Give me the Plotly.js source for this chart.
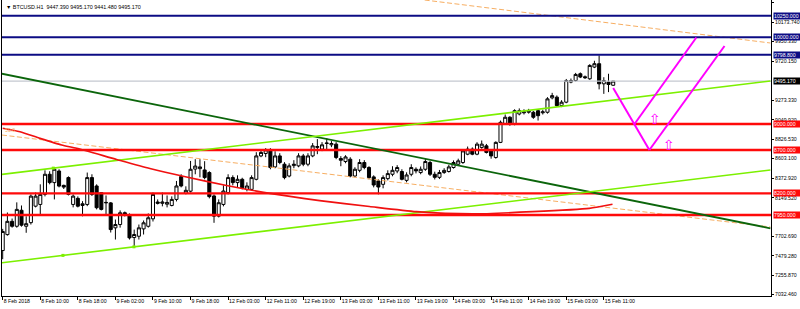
<!DOCTYPE html>
<html><head><meta charset="utf-8">
<script src="https://cdn.plot.ly/plotly-3.0.1.min.js"></script>
<style>html,body{margin:0;padding:0;background:#fff;}#chart{width:800px;height:309px;}</style>
</head><body><div id="chart"></div>
<script>
const symbol = "BTCUSD.H1";
const lastBar = [9447.39, 9495.17, 9441.48, 9495.17];

const open = [7540,7724,7877,7820,8005,7820,7862,8052,8072,8188,
8420,8324,8458,8292,8382,8072,8142,8060,8072,8382,
8285,8208,8090,8090,7802,7840,7976,7956,7690,7705,
7790,7820,7906,8100,8085,8075,8060,8130,8393,8200,
8225,8480,8485,8470,8440,8170,7937,8072,8208,8382,
8324,8362,8246,8246,8362,8632,8660,8698,8505,8632,
8536,8400,8520,8517,8632,8536,8632,8730,8710,8775,
8760,8768,8602,8567,8594,8400,8466,8556,8498,8390,
8343,8304,8370,8420,8458,8452,8350,8420,8478,8440,
8478,8556,8420,8385,8440,8452,8498,8536,8556,8652,
8710,8652,8730,8748,8690,8614,8788,9000,9078,9000,
9116,9130,9136,9136,9154,9130,9136,9302,9310,9212,
9252,9484,9502,9580,9545,9522,9657,9696,9464,9484,
9447.39];
const high = [7790,7979,7909,8096,8060,7935,8188,8210,8304,8466,
8455,8501,8478,8300,8396,8188,8165,8110,8440,8420,
8304,8212,8176,8100,7898,8003,7990,7968,7782,7840,
7887,7968,8210,8130,8210,8176,8165,8343,8420,8281,
8574,8594,8594,8571,8455,8188,8130,8293,8420,8408,
8408,8380,8327,8408,8675,8710,8722,8721,8686,8663,
8560,8547,8583,8663,8655,8663,8780,8826,8791,8838,
8803,8791,8629,8640,8617,8501,8594,8583,8513,8408,
8362,8408,8466,8513,8525,8478,8443,8536,8500,8510,
8600,8575,8450,8470,8490,8530,8580,8600,8710,8740,
8730,8790,8810,8770,8700,8800,9040,9110,9090,9170,
9180,9170,9175,9150,9170,9165,9310,9360,9330,9275,
9520,9525,9590,9595,9560,9690,9730,9792,9540,9580,
9495.17];
const low = [7440,7712,7804,7804,7816,7745,7840,8038,7956,8165,
8304,8130,8269,8250,8176,8038,8038,7935,8052,8170,
8015,8003,7956,7748,7667,7804,7933,7667,7589,7667,
7725,7805,7875,8072,8050,8038,8050,8107,8269,8188,
8210,8420,8385,8362,8142,7860,7922,8050,8188,8292,
8269,8246,8223,8235,8350,8617,8617,8478,8490,8536,
8362,8385,8490,8501,8513,8513,8617,8652,8687,8710,
8733,8594,8513,8547,8385,8385,8443,8478,8362,8269,
8188,8258,8350,8397,8432,8350,8327,8397,8430,8420,
8460,8400,8360,8365,8425,8440,8485,8520,8540,8640,
8640,8640,8715,8660,8600,8600,8780,8990,8980,8985,
9100,9110,9120,9060,9040,9110,9120,9285,9200,9195,
9240,9470,9490,9530,9520,9510,9645,9400,9348,9368,
9441.48];
const close = [7760,7877,7820,8015,7833,7850,8168,8168,8188,8420,
8324,8478,8284,8272,8188,8168,8052,8080,8382,8188,
8034,8015,8095,7782,7840,7976,7956,7686,7725,7802,
7860,7918,8188,8085,8100,8095,8130,8285,8285,8235,
8478,8515,8505,8382,8162,7937,8092,8227,8382,8324,
8362,8265,8285,8382,8632,8672,8702,8498,8632,8556,
8382,8517,8536,8632,8536,8632,8748,8740,8760,8780,
8775,8614,8582,8620,8400,8478,8556,8498,8382,8296,
8273,8382,8428,8466,8498,8362,8412,8498,8459,8478,
8567,8420,8385,8440,8465,8505,8556,8575,8690,8710,
8652,8768,8768,8672,8632,8788,9020,9078,9000,9154,
9154,9140,9154,9078,9096,9140,9290,9328,9212,9252,
9502,9502,9572,9542,9535,9676,9696,9464,9502,9456,
9495.17];

const xTickIdx = [0,8,16,24,32,40,48,56,64,72,80,88,96,104,112,120,128];
const xTickText = ["8 Feb 2018","8 Feb 10:00","8 Feb 18:00","9 Feb 02:00","9 Feb 10:00","9 Feb 18:00",
"12 Feb 03:00","12 Feb 11:00","12 Feb 19:00","13 Feb 03:00","13 Feb 11:00","13 Feb 19:00",
"14 Feb 03:00","14 Feb 11:00","14 Feb 19:00","15 Feb 03:00","15 Feb 11:00"];
const yTickVals = [10397.15,10173.74,9950.33,9720.15,9273.33,9049.92,8826.53,8603.10,8372.92,8149.52,7702.69,7479.28,7255.87,7032.46];

const blueLevels = [10250, 10000, 9798.8];
const redLevels = [9000, 8700, 8200, 7950];
const bidPrice = 9495.17;

const darkGreenIdx = [-0.57, 163.47], darkGreenVal = [9585, 7797];
const limeUpperIdx = [-0.15, 163.47], limeUpperVal = [8419, 9496];
const limeLowerIdx = [-0.15, 163.47], limeLowerVal = [7399, 8469];
const limeDotIdx = [10.77, 12.83, 27.94], limeDotVal = [8491, 7484, 7583];
const orangeIdx = [-0.15, 163.47], orangeVal = [8873, 7812];
const orangeTopIdx = [89.85, 163.47], orangeTopVal = [10431, 9935];
const maIdx = [0, 3.68, 7.94, 12.55, 15.74, 24.26, 31.34, 39.15, 47.66, 56.87, 67.5, 78.1, 88.1, 100.06, 112.8, 124.9, 129.85];
const maVal = [8951, 8911, 8835, 8758, 8720, 8591, 8487, 8389, 8291, 8200, 8117, 8048, 7988, 7962, 7988, 8027, 8074];
const magAIdx = [130, 137.7], magAVal = [9416, 8700];
const magBIdx = [134.5, 147.7], magBVal = [8997, 9998];
const magCIdx = [137.7, 153.7], magCVal = [8700, 9900];
const arrowIdx = [138.8, 141.8], arrowVal = [9046, 8746];
const fiboLabel = "50.0", fiboVal = 8931;

const xRange = [-0.15, 163.6];
const yRange = [7015.4, 10431.2];

const FONT = "Liberation Sans, Arial, sans-serif";
const idx = open.map((_, i) => i);
const fmt = v => v.toFixed(3);

function seg(x, y, color, width, dash) {
  return {x: x, y: y, type: 'scatter', mode: 'lines', hoverinfo: 'skip', showlegend: false,
          line: {color: color, width: width, dash: dash || 'solid'}};
}

const traces = [];
traces.push({
  type: 'candlestick', x: idx, open: open, high: high, low: low, close: close,
  increasing: {line: {color: '#000', width: 1}, fillcolor: '#fff'},
  decreasing: {line: {color: '#000', width: 1}, fillcolor: '#000'},
  whiskerwidth: 0, hoverinfo: 'skip', showlegend: false
});
traces.push(seg(xRange, [bidPrice, bidPrice], '#C4C8D0', 1.3));
traces.push(seg(orangeIdx, orangeVal, '#F7AE62', 1, '5px,2.5px'));
traces.push(seg(orangeTopIdx, orangeTopVal, '#F7AE62', 1, '5px,2.5px'));
blueLevels.forEach(v => traces.push(seg(xRange, [v, v], '#0C0C84', 2)));
redLevels.forEach(v => traces.push(seg(xRange, [v, v], '#FF0A0A', 2.4)));
traces.push(seg(darkGreenIdx, darkGreenVal, '#0B650B', 1.8));
traces.push(seg(limeUpperIdx, limeUpperVal, '#7CF000', 1.6));
traces.push(seg(limeLowerIdx, limeLowerVal, '#7CF000', 1.6));
traces.push({x: limeDotIdx, y: limeDotVal, type: 'scatter', mode: 'markers', hoverinfo: 'skip', showlegend: false,
  marker: {symbol: 'square', size: 3, color: '#7CF000'}});
traces.push(Object.assign(seg(maIdx, maVal, '#F01010', 1.7), {line: {color: '#F01010', width: 1.7, shape: 'spline', smoothing: 0.6}}));
traces.push(seg(magAIdx, magAVal, '#FF00FF', 2));
traces.push(seg(magBIdx, magBVal, '#FF00FF', 2));
traces.push(seg(magCIdx, magCVal, '#FF00FF', 2));
traces.push({x: arrowIdx, y: arrowVal, type: 'scatter', mode: 'text', text: arrowIdx.map(() => '⇧'),
  textfont: {family: 'DejaVu Sans', size: 14, color: '#FF00FF'}, textposition: 'middle center',
  hoverinfo: 'skip', showlegend: false});

const annotations = [];
annotations.push({xref: 'paper', yref: 'paper', x: 0, y: 1, xanchor: 'left', yanchor: 'top', xshift: 2, yshift: -2,
  showarrow: false, text: '▼ ' + symbol + '  ' + lastBar.map(fmt).join(' '),
  font: {family: FONT, size: 5.4, color: '#000'}});
annotations.push({xref: 'paper', yref: 'y', x: 0, y: fiboVal, xanchor: 'left', yanchor: 'middle', xshift: 1,
  showarrow: false, text: fiboLabel, font: {family: FONT, size: 5.2, color: '#F7AE62'}});
function levelLabel(v, bg) {
  annotations.push({xref: 'paper', yref: 'y', x: 1, y: v, xanchor: 'left', yanchor: 'middle', xshift: 1.5,
    showarrow: false, text: fmt(v), bgcolor: bg, borderpad: 0, width: 26, height: 5.5, align: 'left',
    font: {family: FONT, size: 5.2, color: '#fff'}});
}
blueLevels.forEach(v => levelLabel(v, '#0C0C84'));
redLevels.forEach(v => levelLabel(v, '#FF0A0A'));
levelLabel(bidPrice, '#000');

const layout = {
  width: 800, height: 309,
  margin: {l: 2, r: 29, t: 0, b: 13, pad: 0},
  paper_bgcolor: '#fff', plot_bgcolor: '#fff',
  showlegend: false, boxgap: 0.35, boxgroupgap: 0,
  xaxis: {range: xRange, rangeslider: {visible: false}, showgrid: false, zeroline: false,
    showline: true, linecolor: '#000', linewidth: 1,
    tickmode: 'array', tickvals: xTickIdx, ticktext: xTickText,
    ticks: 'outside', ticklen: 3, tickcolor: '#000', tickwidth: 1,
    ticklabelposition: 'outside right', tickangle: 0,
    tickfont: {family: FONT, size: 5.2, color: '#000'}, fixedrange: true},
  yaxis: {range: yRange, side: 'right', showgrid: false, zeroline: false,
    showline: true, mirror: true, linecolor: '#000', linewidth: 1,
    tickmode: 'array', tickvals: yTickVals, ticktext: yTickVals.map(fmt),
    ticks: 'outside', ticklen: 2, tickcolor: '#000', tickwidth: 1,
    tickfont: {family: FONT, size: 5.2, color: '#000'}, fixedrange: true},
  annotations: annotations
};

Plotly.newPlot('chart', traces, layout, {staticPlot: true, displayModeBar: false});
</script>
</body></html>
